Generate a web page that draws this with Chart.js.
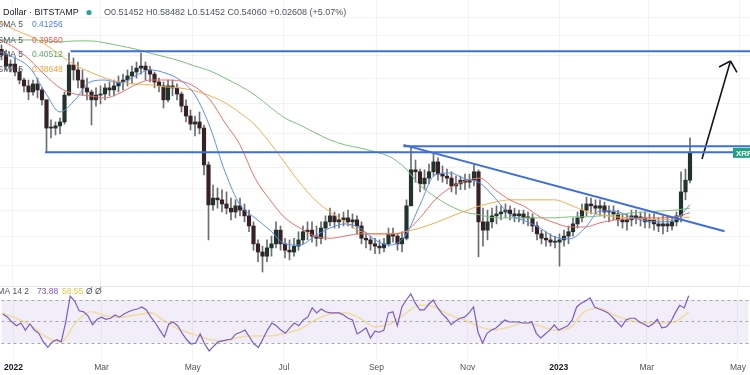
<!DOCTYPE html>
<html>
<head>
<meta charset="utf-8">
<script src="https://cdn.jsdelivr.net/npm/chart.js@4.4.1/dist/chart.umd.min.js"></script>
<style>
  html, body { margin: 0; padding: 0; background: #fff; }
  #wrap { position: relative; width: 750px; height: 375px; overflow: hidden; }
  #price { position: absolute; left: 0; top: 0; }
  #rsi { position: absolute; left: 0; top: 286px; }
</style>
</head>
<body>
<div id="wrap">
  <canvas id="price" width="750" height="286"></canvas>
  <canvas id="rsi" width="750" height="89"></canvas>
</div>
<script>
// XRP / USD, Bitstamp, 3-day candles from 2021-12-25 (days counted from 2022-01-01)
const FIRST_DAY = -7;
const STEP = 3;
const firstOpen = 0.930;

const highs = [
  0.952, 0.927, 0.880, 0.889, 0.843, 0.800, 0.792, 0.792, 0.800, 0.760,
  0.714, 0.643, 0.636, 0.649, 0.744, 0.912, 0.889, 0.870, 0.835, 0.800,
  0.752, 0.760, 0.768, 0.776, 0.784, 0.792, 0.809, 0.817, 0.835, 0.852,
  0.870, 0.912, 0.870, 0.852, 0.826, 0.800, 0.784, 0.792, 0.792, 0.776,
  0.744, 0.714, 0.677, 0.656, 0.670, 0.626, 0.516, 0.457, 0.450, 0.446,
  0.441, 0.427, 0.423, 0.427, 0.414, 0.401, 0.377, 0.343, 0.332, 0.343,
  0.350, 0.377, 0.369, 0.346, 0.343, 0.346, 0.358, 0.369, 0.377, 0.377,
  0.369, 0.377, 0.389, 0.405, 0.397, 0.393, 0.397, 0.401, 0.393, 0.389,
  0.377, 0.354, 0.350, 0.346, 0.343, 0.346, 0.365, 0.365, 0.354, 0.358,
  0.423, 0.558, 0.521, 0.497, 0.495, 0.510, 0.541, 0.527, 0.505, 0.497,
  0.490, 0.479, 0.479, 0.484, 0.484, 0.508, 0.495, 0.405, 0.401, 0.405,
  0.410, 0.410, 0.414, 0.410, 0.405, 0.401, 0.401, 0.397, 0.393, 0.377,
  0.361, 0.358, 0.354, 0.350, 0.354, 0.361, 0.369, 0.385, 0.397, 0.414,
  0.429, 0.427, 0.423, 0.423, 0.418, 0.410, 0.410, 0.401, 0.393, 0.393,
  0.401, 0.401, 0.397, 0.397, 0.393, 0.393, 0.385, 0.389, 0.389, 0.385,
  0.397, 0.490, 0.497, 0.585
];
const lows = [
  0.880, 0.835, 0.826, 0.809, 0.776, 0.744, 0.714, 0.732, 0.721, 0.695,
  0.543, 0.585, 0.594, 0.597, 0.629, 0.729, 0.792, 0.760, 0.732, 0.714,
  0.626, 0.691, 0.699, 0.714, 0.729, 0.729, 0.744, 0.752, 0.768, 0.776,
  0.800, 0.817, 0.792, 0.784, 0.760, 0.744, 0.684, 0.706, 0.729, 0.714,
  0.670, 0.636, 0.610, 0.591, 0.597, 0.482, 0.343, 0.401, 0.405, 0.397,
  0.393, 0.381, 0.385, 0.389, 0.377, 0.358, 0.325, 0.306, 0.290, 0.306,
  0.315, 0.329, 0.325, 0.312, 0.309, 0.315, 0.325, 0.336, 0.343, 0.339,
  0.332, 0.336, 0.343, 0.369, 0.365, 0.365, 0.369, 0.369, 0.365, 0.354,
  0.336, 0.329, 0.325, 0.319, 0.319, 0.322, 0.332, 0.339, 0.325, 0.322,
  0.343, 0.410, 0.464, 0.441, 0.446, 0.460, 0.479, 0.469, 0.464, 0.460,
  0.441, 0.436, 0.446, 0.446, 0.450, 0.455, 0.314, 0.332, 0.343, 0.365,
  0.373, 0.381, 0.385, 0.381, 0.377, 0.377, 0.373, 0.369, 0.358, 0.343,
  0.336, 0.332, 0.332, 0.329, 0.299, 0.332, 0.336, 0.350, 0.365, 0.377,
  0.389, 0.393, 0.393, 0.389, 0.385, 0.377, 0.381, 0.369, 0.365, 0.361,
  0.369, 0.373, 0.369, 0.365, 0.365, 0.361, 0.358, 0.354, 0.358, 0.361,
  0.369, 0.377, 0.423, 0.462
];
const closes = [
  0.903, 0.852, 0.861, 0.826, 0.792, 0.768, 0.744, 0.776, 0.752, 0.714,
  0.616, 0.616, 0.623, 0.636, 0.732, 0.857, 0.835, 0.792, 0.760, 0.744,
  0.714, 0.732, 0.736, 0.760, 0.752, 0.768, 0.784, 0.792, 0.809, 0.826,
  0.843, 0.852, 0.835, 0.817, 0.784, 0.768, 0.714, 0.768, 0.760, 0.736,
  0.691, 0.656, 0.629, 0.636, 0.616, 0.508, 0.412, 0.427, 0.423, 0.414,
  0.405, 0.397, 0.410, 0.401, 0.389, 0.369, 0.336, 0.322, 0.315, 0.329,
  0.336, 0.361, 0.336, 0.325, 0.322, 0.332, 0.343, 0.358, 0.361, 0.350,
  0.346, 0.365, 0.377, 0.389, 0.377, 0.381, 0.385, 0.377, 0.381, 0.369,
  0.346, 0.343, 0.336, 0.332, 0.329, 0.336, 0.354, 0.350, 0.336, 0.346,
  0.410, 0.495, 0.490, 0.460, 0.474, 0.490, 0.516, 0.484, 0.479, 0.474,
  0.455, 0.460, 0.469, 0.464, 0.469, 0.490, 0.377, 0.361, 0.377, 0.389,
  0.393, 0.397, 0.401, 0.393, 0.389, 0.393, 0.385, 0.385, 0.369, 0.354,
  0.346, 0.343, 0.339, 0.339, 0.343, 0.350, 0.358, 0.373, 0.385, 0.401,
  0.414, 0.410, 0.405, 0.410, 0.397, 0.397, 0.393, 0.381, 0.377, 0.381,
  0.389, 0.385, 0.385, 0.377, 0.381, 0.373, 0.369, 0.373, 0.369, 0.377,
  0.389, 0.441, 0.469, 0.541
];

// RSI 14, one reading per candle
const rsi = [
  57, 54, 49.5, 46, 48.6, 42, 47.7, 42, 39, 31,
  26, 31, 33, 31, 49.5, 73.7, 69, 60, 59, 55,
  47, 52, 54, 52, 53, 56, 54, 57, 59, 60.7,
  61.6, 63.5, 60.7, 54, 48.6, 42, 35.6, 47.7, 49.5, 46,
  39, 33, 29, 30, 38.4, 29, 22.6, 27, 31, 32,
  33, 33.7, 38.4, 40, 42, 35.6, 29, 26, 33.7, 42,
  48.6, 46, 42, 39, 44, 48.6, 46, 51.4, 54, 62.6,
  58, 61.6, 59, 58, 58, 58, 56, 53, 51.4, 38.4,
  41, 44, 34.7, 41, 40, 42, 58, 59, 46, 63.5,
  70, 75.6, 67, 60.7, 60.7, 66, 70, 62.6, 57, 53,
  47, 50.5, 53, 54, 58, 63.5, 40, 30, 39, 42,
  44, 47.7, 51.4, 49.5, 49.5, 49.5, 48.6, 48.6, 49.5, 39,
  34.7, 38.4, 42, 46.7, 42, 44, 46, 51.4, 63.5, 67,
  69, 72, 63.5, 61.6, 60, 58, 54, 49.5, 45, 51.4,
  53, 53, 49.5, 47.7, 45, 47.7, 52, 44, 45, 49.5,
  58, 65, 62.6, 73.88
];

// moving averages, read every 10 days
const smaDays = [
  -8, 2, 12, 22, 32, 42, 52, 62, 72, 82, 92, 102, 112, 122, 132, 142,
  152, 162, 172, 182, 192, 202, 212, 222, 232, 242, 252, 262, 272, 282,
  292, 302, 312, 322, 332, 342, 352, 362, 372, 382, 392, 402, 412, 422,
  432, 442, 452
];
const smaBlue = [
  0.918, 0.889, 0.843, 0.744, 0.670, 0.714, 0.784, 0.792, 0.780, 0.809,
  0.835, 0.822, 0.792, 0.732, 0.619, 0.490, 0.412, 0.385, 0.361, 0.336,
  0.334, 0.350, 0.365, 0.373, 0.365, 0.343, 0.334, 0.350, 0.412, 0.482,
  0.487, 0.472, 0.462, 0.427, 0.391, 0.379, 0.365, 0.348, 0.345, 0.365,
  0.399, 0.399, 0.387, 0.379, 0.377, 0.381, 0.41256
];
const smaRed = [
  0.977, 0.937, 0.880, 0.813, 0.760, 0.736, 0.729, 0.721, 0.740, 0.772,
  0.792, 0.792, 0.788, 0.764, 0.714, 0.633, 0.564, 0.474, 0.423, 0.385,
  0.365, 0.350, 0.346, 0.350, 0.354, 0.354, 0.354, 0.358, 0.385, 0.423,
  0.450, 0.467, 0.474, 0.446, 0.423, 0.408, 0.387, 0.375, 0.367, 0.367,
  0.375, 0.381, 0.383, 0.385, 0.385, 0.387, 0.39560
];
const smaOrange = [
  1.073, 1.029, 0.997, 0.956, 0.903, 0.857, 0.826, 0.800, 0.784, 0.776,
  0.772, 0.764, 0.760, 0.748, 0.729, 0.703, 0.667, 0.626, 0.570, 0.513,
  0.462, 0.423, 0.397, 0.377, 0.359, 0.354, 0.354, 0.358, 0.365, 0.375,
  0.387, 0.399, 0.410, 0.418, 0.423, 0.423, 0.423, 0.423, 0.412, 0.399,
  0.391, 0.387, 0.385, 0.383, 0.381, 0.383, 0.38648
];
const smaGreen = [
  0.977, 0.977, 0.977, 0.972, 0.967, 0.972, 0.972, 0.962, 0.947, 0.932,
  0.912, 0.894, 0.875, 0.852, 0.831, 0.800, 0.768, 0.732, 0.688, 0.649,
  0.626, 0.601, 0.579, 0.564, 0.555, 0.544, 0.530, 0.500, 0.457, 0.430,
  0.410, 0.397, 0.391, 0.385, 0.385, 0.385, 0.385, 0.385, 0.387, 0.387,
  0.389, 0.391, 0.395, 0.397, 0.399, 0.401, 0.40512
];
const rsiMa = [
  57.9, 53, 46, 35.6, 31, 49.5, 59, 55, 54, 56,
  58, 49.5, 42, 37.4, 33, 32, 35.6, 36.5, 36.5, 39.3,
  43, 51.4, 57, 58, 53, 45, 47.7, 57, 65.3, 63.5,
  56, 51.4, 45, 42, 45, 48.6, 46, 42, 44, 58.8,
  62.6, 56, 51.4, 48.6, 48.6, 49.5, 58.55
];

// drawn levels and trend line (day, price)
const levelDays = [39, 22, 261];
const levelPrices = [0.921, 0.543, 0.560];
const trendDays = [261, 475];
const trendPrices = [0.564, 0.359];
const arrowDays = [460, 479];
const arrowPrices = [0.524, 0.875];

const monthDays = [0, 59, 120, 181, 243, 304, 365, 424, 485];
const monthLabels = ['2022', 'Mar', 'May', 'Jul', 'Sep', 'Nov', '2023', 'Mar', 'May'];
const priceGrid = [0.3, 0.35, 0.4, 0.45, 0.5, 0.6, 0.7, 0.8, 0.9, 1.0, 1.1];
const rsiLevels = [70, 50, 30];

const X_MIN = -8, X_MAX = 492;
const FONT = '"Liberation Sans", Arial, sans-serif';
const GRID = 'rgba(42,46,57,0.06)';

const candleDays = closes.map((_, i) => FIRST_DAY + STEP * i);
const opens = closes.map((c, i) => i === 0 ? firstOpen : closes[i - 1]);
const isUp = closes.map((c, i) => c >= opens[i]);

function pts(days, vals) {
  return days.map((d, i) => ({ x: d, y: vals[i] }));
}
function smaLine(vals, color) {
  return {
    type: 'line', data: pts(smaDays, vals), borderColor: color, borderWidth: 1,
    pointRadius: 0, cubicInterpolationMode: 'monotone', order: 2
  };
}
function drawnLine(days, vals, color, width) {
  return {
    type: 'line', data: pts(days, vals), borderColor: color, borderWidth: width,
    pointRadius: 0, tension: 0, order: 0
  };
}

const levelSets = levelDays.map((d, i) =>
  drawnLine([d, X_MAX], [levelPrices[i], levelPrices[i]], '#3d6fd6', 2));

// price pane overlay: legend text, arrow head, last price tag
const priceOverlay = {
  id: 'priceOverlay',
  afterDraw(chart) {
    const { ctx, scales: { x, y } } = chart;
    ctx.save();
    // arrow head
    const tx = x.getPixelForValue(arrowDays[1]), ty = y.getPixelForValue(arrowPrices[1]);
    const sx = x.getPixelForValue(arrowDays[0]), sy = y.getPixelForValue(arrowPrices[0]);
    const ang = Math.atan2(sy - ty, sx - tx);
    ctx.strokeStyle = '#131722';
    ctx.lineWidth = 1.6;
    ctx.beginPath();
    [-0.8, 0.8].forEach(a => {
      ctx.moveTo(tx, ty);
      ctx.lineTo(tx + 13 * Math.cos(ang + a), ty + 13 * Math.sin(ang + a));
    });
    ctx.stroke();

    // last price tag
    const py = y.getPixelForValue(closes[closes.length - 1]);
    ctx.fillStyle = '#1fa383';
    ctx.fillRect(733, py - 5, 17, 10);
    ctx.fillStyle = '#fff';
    ctx.font = 'bold 8px ' + FONT;
    ctx.textBaseline = 'middle';
    ctx.fillText('XRP', 736, py + 0.5);

    // title + OHLC
    ctx.font = '9px ' + FONT;
    ctx.fillStyle = '#131722';
    ctx.fillText('Dollar · BITSTAMP', 3, 12.5);
    ctx.fillStyle = '#26a69a';
    ctx.beginPath();
    ctx.arc(89, 12.5, 2.6, 0, Math.PI * 2);
    ctx.fill();
    ctx.font = '9px ' + FONT;
    ctx.fillStyle = '#50535e';
    ctx.fillText('O0.51452 H0.58482 L0.51452 C0.54060 +0.02608 (+5.07%)', 104, 13);

    // moving average legend
    const rows = [
      ['0.41256', '#4a7fe0', 25],
      ['0.39560', '#e0605c', 40.5],
      ['0.40512', '#5caf62', 54.5],
      ['0.38648', '#f0a43a', 69.5]
    ];
    rows.forEach(r => {
      ctx.font = '8.5px ' + FONT;
      ctx.fillStyle = '#50535e';
      ctx.textAlign = 'right';
      ctx.fillText('SMA 5', 23, r[2]);
      ctx.textAlign = 'left';
      ctx.fillStyle = r[1];
      ctx.fillText(r[0], 32, r[2]);
    });
    ctx.restore();
  }
};

new Chart(document.getElementById('price'), {
  type: 'bar',
  data: {
    datasets: [
      ...levelSets,
      drawnLine(trendDays, trendPrices, '#3d6fd6', 2),
      drawnLine(arrowDays, arrowPrices, '#131722', 1.6),
      smaLine(smaBlue, '#5b8fe8'),
      smaLine(smaRed, '#e8706b'),
      smaLine(smaOrange, '#f3ae4e'),
      smaLine(smaGreen, '#7cbf7c'),
      {
        data: candleDays.map((d, i) => ({ x: d, y: [opens[i], closes[i]] })),
        backgroundColor: isUp.map(u => u ? '#22332d' : '#362124'),
        barThickness: 3.5, grouped: false, minBarLength: 1, order: 3
      },
      {
        data: candleDays.map((d, i) => ({ x: d, y: [lows[i], highs[i]] })),
        backgroundColor: '#6a6d74',
        barThickness: 1, grouped: false, order: 4
      }
    ]
  },
  options: {
    responsive: false, animation: false, devicePixelRatio: 1,
    layout: { padding: 0, autoPadding: false },
    plugins: { legend: { display: false }, tooltip: { enabled: false } },
    scales: {
      x: {
        type: 'linear', min: X_MIN, max: X_MAX, offset: false,
        afterBuildTicks: ax => { ax.ticks = monthDays.map(v => ({ value: v })); },
        ticks: { display: false },
        grid: { color: GRID, drawTicks: false, offset: false },
        border: { display: false }
      },
      y: {
        type: 'logarithmic', min: 0.2695, max: 1.204,
        afterBuildTicks: ax => { ax.ticks = priceGrid.map(v => ({ value: v })); },
        ticks: { display: false },
        grid: { color: GRID, drawTicks: false },
        border: { display: false }
      }
    }
  },
  plugins: [priceOverlay]
});

// RSI pane: band, dashed levels, legend
const rsiOverlay = {
  id: 'rsiOverlay',
  beforeDatasetsDraw(chart) {
    const { ctx, chartArea: a, scales: { y } } = chart;
    ctx.save();
    const top = y.getPixelForValue(rsiLevels[0]);
    const bot = y.getPixelForValue(rsiLevels[2]);
    ctx.fillStyle = 'rgba(126,87,194,0.10)';
    ctx.fillRect(a.left, top, a.right - a.left, bot - top);
    ctx.strokeStyle = '#a6a8b0';
    ctx.lineWidth = 1;
    ctx.setLineDash([3, 3]);
    rsiLevels.forEach(v => {
      const py = Math.round(y.getPixelForValue(v)) + 0.5;
      ctx.beginPath();
      ctx.moveTo(a.left, py);
      ctx.lineTo(a.right, py);
      ctx.stroke();
    });
    ctx.setLineDash([]);
    ctx.strokeStyle = '#e6e8ee';
    ctx.beginPath();
    ctx.moveTo(0, 0.5);
    ctx.lineTo(750, 0.5);
    ctx.stroke();
    ctx.restore();
  },
  afterDraw(chart) {
    const { ctx } = chart;
    ctx.save();
    ctx.font = '8.5px ' + FONT;
    ctx.textBaseline = 'middle';
    ctx.textAlign = 'right';
    ctx.fillStyle = '#50535e';
    ctx.fillText('SMA 14 2', 29, 5.5);
    ctx.textAlign = 'left';
    ctx.fillStyle = '#7e57c2';
    ctx.fillText('73.88', 37, 5.5);
    ctx.fillStyle = '#e6c640';
    ctx.fillText('58.55', 62, 5.5);
    ctx.fillStyle = '#50535e';
    ctx.fillText('Ø Ø', 86, 5.5);
    ctx.restore();
  }
};

new Chart(document.getElementById('rsi'), {
  type: 'line',
  data: {
    datasets: [
      {
        data: pts(candleDays, rsi), borderColor: '#7b5cc4', borderWidth: 1.2,
        pointRadius: 0, tension: 0, order: 0
      },
      {
        data: pts(smaDays, rsiMa), borderColor: 'rgba(240,205,90,0.55)', borderWidth: 1.6,
        pointRadius: 0, cubicInterpolationMode: 'monotone', order: 1
      }
    ]
  },
  options: {
    responsive: false, animation: false, devicePixelRatio: 1,
    layout: { padding: 0, autoPadding: false },
    plugins: { legend: { display: false }, tooltip: { enabled: false } },
    scales: {
      x: {
        type: 'linear', min: X_MIN, max: X_MAX, offset: false,
        afterBuildTicks: ax => { ax.ticks = monthDays.map(v => ({ value: v })); },
        afterFit: ax => { ax.height = 16; },
        ticks: {
          autoSkip: false, maxRotation: 0, padding: 4,
          callback: (v, i) => monthLabels[i],
          color: ctx => /^\d/.test(monthLabels[ctx.index]) ? '#131722' : '#50535e',
          font: ctx => ({
            family: FONT, size: 8.5,
            weight: /^\d/.test(monthLabels[ctx.index]) ? 'bold' : 'normal'
          })
        },
        grid: { color: GRID, drawTicks: false },
        border: { display: false }
      },
      y: {
        min: 15.1, max: 83,
        ticks: { display: false },
        grid: { display: false, drawTicks: false },
        border: { display: false }
      }
    }
  },
  plugins: [rsiOverlay]
});
</script>
</body>
</html>
